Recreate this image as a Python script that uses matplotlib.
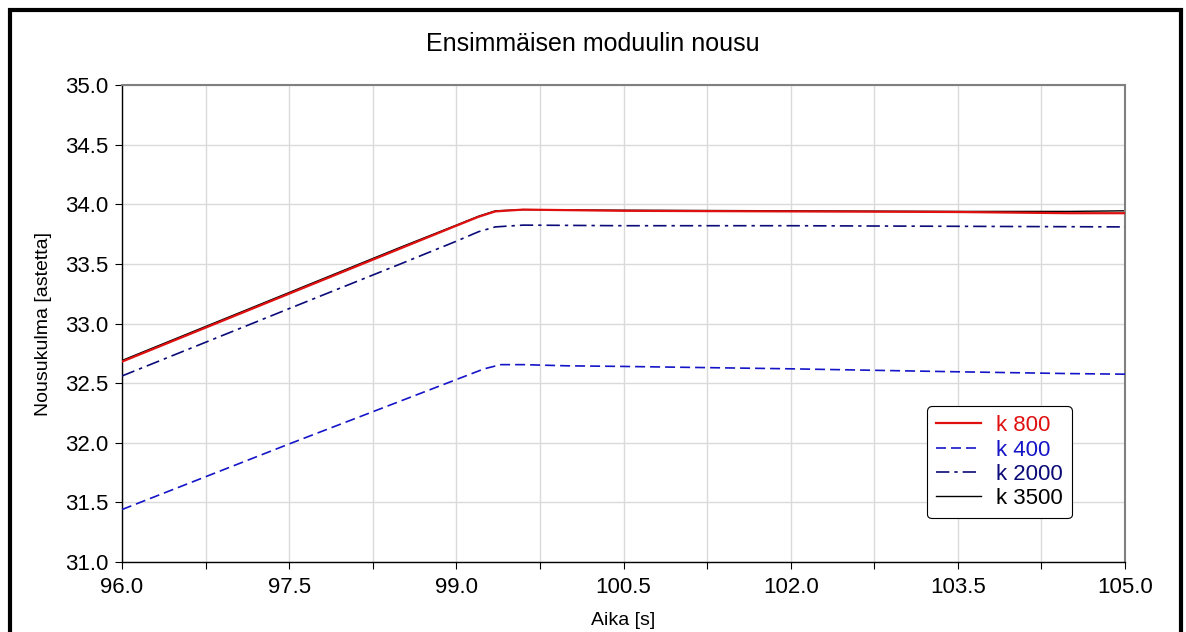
import matplotlib
matplotlib.use("Agg")
import matplotlib.pyplot as plt
from matplotlib.patches import Rectangle
from matplotlib.ticker import MultipleLocator
import numpy as np

plt.rcParams["font.family"] = ["Liberation Sans", "DejaVu Sans"]

# -----------------------------------
# DATA
# -----------------------------------

time_k800 = [96.0, 97.5, 98.5, 99.0, 99.2, 99.35, 99.6, 100.5, 102.0, 103.5, 104.5, 105.0]
angle_k800 = [32.68, 33.25, 33.63, 33.82, 33.895, 33.94, 33.955, 33.945, 33.94, 33.935, 33.925, 33.925]

time_k400 = [96.0, 97.5, 98.5, 99.0, 99.25, 99.4, 99.6, 100.0, 100.5, 102.0, 103.5, 104.5, 105.0]
angle_k400 = [31.44, 31.99, 32.35, 32.53, 32.62, 32.655, 32.655, 32.645, 32.64, 32.62, 32.595, 32.58, 32.575]

time_k2000 = [96.0, 97.5, 98.5, 99.0, 99.2, 99.35, 99.6, 100.5, 102.0, 103.5, 105.0]
angle_k2000 = [32.56, 33.125, 33.50, 33.69, 33.77, 33.81, 33.825, 33.82, 33.82, 33.815, 33.81]

time_k3500 = [96.0, 97.5, 98.5, 99.0, 99.2, 99.35, 99.6, 100.5, 102.0, 103.5, 104.5, 105.0]
angle_k3500 = [32.69, 33.26, 33.64, 33.825, 33.9, 33.945, 33.955, 33.95, 33.945, 33.94, 33.94, 33.945]

labels = ["k 800", "k 400", "k 2000", "k 3500"]
colors = ["#e01010", "#1515c8", "#0a0a78", "#000000"]

# -----------------------------------
# FIGURE
# -----------------------------------

fig = plt.figure(figsize=(11.86, 6.32), dpi=100)
ax = fig.add_axes([122 / 1186, 70 / 632, 1003 / 1186, 477 / 632])

l1, = ax.plot(time_k800, angle_k800, color=colors[0], lw=1.6, zorder=4)
l2, = ax.plot(time_k400, angle_k400, color=colors[1], lw=1.2,
              linestyle=(0, (6, 3)), zorder=3)
l3, = ax.plot(time_k2000, angle_k2000, color=colors[2], lw=1.2,
              linestyle=(0, (8, 3, 2, 3)), zorder=3)
l4, = ax.plot(time_k3500, angle_k3500, color=colors[3], lw=1.0, zorder=2)

# -----------------------------------
# AXES
# -----------------------------------

ax.set_xlim(96.0, 105.0)
ax.set_ylim(31.0, 35.0)

ax.xaxis.set_major_locator(MultipleLocator(1.5))
ax.xaxis.set_minor_locator(MultipleLocator(0.75))
ax.yaxis.set_major_locator(MultipleLocator(0.5))
ax.xaxis.set_major_formatter(plt.FormatStrFormatter("%.1f"))
ax.yaxis.set_major_formatter(plt.FormatStrFormatter("%.1f"))

ax.grid(True, which="both", axis="x", color="#dadada", lw=1.0)
ax.grid(True, which="major", axis="y", color="#dadada", lw=1.0)
ax.set_axisbelow(True)

ax.tick_params(axis="both", which="both", direction="out", length=5,
               width=0.8, labelsize=16, top=False, right=False)
ax.tick_params(axis="x", pad=6)
ax.tick_params(axis="y", pad=5)

for side in ["left", "bottom"]:
    ax.spines[side].set_color("black")
    ax.spines[side].set_linewidth(1.0)
for side in ["top", "right"]:
    ax.spines[side].set_color("#808080")
    ax.spines[side].set_linewidth(1.5)

ax.set_xlabel("Aika [s]", fontsize=14, labelpad=10)
ax.set_ylabel("Nousukulma [astetta]", fontsize=14, labelpad=9)

fig.text(0.5, 1 - 44 / 632, "Ensimmäisen moduulin nousu",
         ha="center", va="center", fontsize=18)

# -----------------------------------
# LEGEND
# -----------------------------------

leg = ax.legend([l1, l2, l3, l4], labels, loc="lower right",
                bbox_to_anchor=(0.947, 0.092), borderaxespad=0,
                fontsize=16, handlelength=2.0, handletextpad=0.7,
                labelspacing=0.15, borderpad=0.4, frameon=True,
                fancybox=True, framealpha=1)
leg.get_frame().set_edgecolor("black")
leg.get_frame().set_linewidth(0.8)
for txt, c in zip(leg.get_texts(), colors):
    txt.set_color(c)

# -----------------------------------
# OUTER FRAME
# -----------------------------------

fig.patches.append(Rectangle((10 / 1186, -0.02), 1170.5 / 1186, 1.02 - 10 / 632,
                             transform=fig.transFigure, fill=False,
                             edgecolor="black", linewidth=3))

fig.savefig("out.png", dpi=100)
